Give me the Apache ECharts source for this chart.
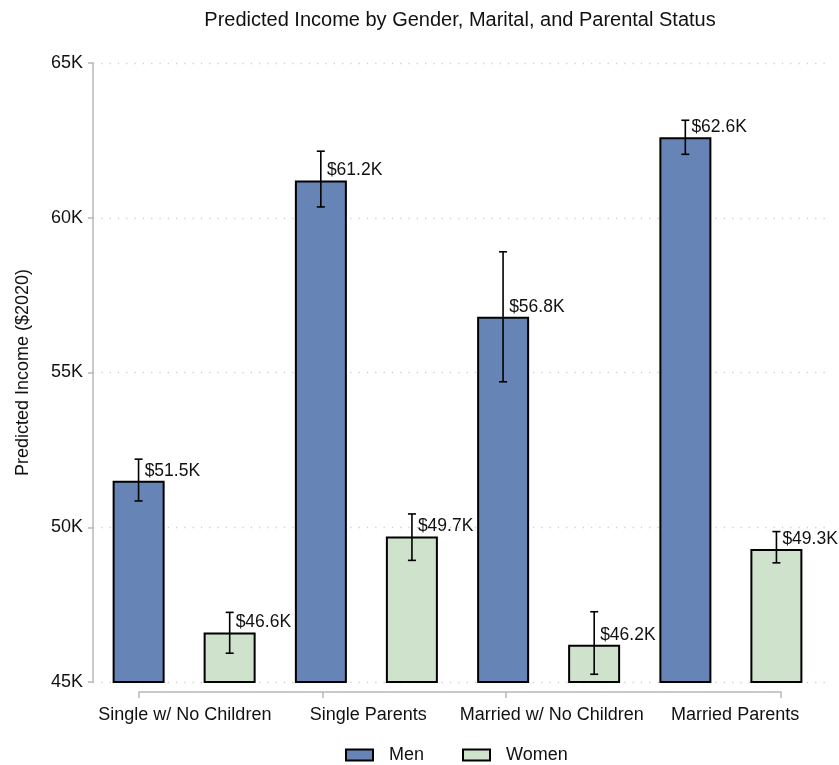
<!DOCTYPE html>
<html>
<head>
<meta charset="utf-8">
<script src="https://cdn.jsdelivr.net/npm/echarts@6/dist/echarts.min.js"></script>
<style>
  html, body { margin: 0; padding: 0; background: #fff; }
  #chart { width: 839px; height: 765px; }
</style>
</head>
<body>
<div id="chart"></div>
<script>
// Household groups along the x axis
const categories = ['Single w/ No Children', 'Single Parents', 'Married w/ No Children', 'Married Parents'];

// Predicted income, thousands of 2020 dollars
const menValues   = [51.5, 61.2, 56.8, 62.6];
const womenValues = [46.6, 49.7, 46.2, 49.3];

// Confidence interval bounds (low, high), thousands
const menLow    = [50.85, 60.35, 54.7, 62.05];
const menHigh   = [52.2, 62.15, 58.9, 63.15];
const womenLow  = [45.93, 48.93, 45.25, 48.85];
const womenHigh = [47.25, 50.43, 47.27, 49.86];

// Y axis ticks
const yMin = 45, yMax = 65, yStep = 5;

const FONT = '"Liberation Sans", Arial, sans-serif';
const MEN_COLOR = '#6784b6';
const WOMEN_COLOR = '#cfe2cc';

const chart = echarts.init(document.getElementById('chart'), null, { renderer: 'canvas' });

function errorSeries(name, lows, highs, side) {
  return {
    type: 'custom',
    name: name + ' CI',
    xAxisIndex: 0,
    yAxisIndex: 0,
    z: 5,
    silent: true,
    data: lows.map((lo, i) => [i, lo, highs[i]]),
    renderItem: function (params, api) {
      const band = api.size([1, 0])[0];
      const dx = side * band * 0.25;
      const lo = api.coord([api.value(0), api.value(1)]);
      const hi = api.coord([api.value(0), api.value(2)]);
      const x = lo[0] + dx;
      const cap = 4;
      const style = { stroke: '#000', lineWidth: 1.6 };
      return {
        type: 'group',
        children: [
          { type: 'line', shape: { x1: x, y1: lo[1], x2: x, y2: hi[1] }, style: style },
          { type: 'line', shape: { x1: x - cap, y1: hi[1], x2: x + cap, y2: hi[1] }, style: style },
          { type: 'line', shape: { x1: x - cap, y1: lo[1], x2: x + cap, y2: lo[1] }, style: style }
        ]
      };
    }
  };
}

const valueLabel = {
  show: true,
  position: [32, -10],
  align: 'left',
  verticalAlign: 'middle',
  color: '#111',
  fontFamily: FONT,
  fontSize: 17.5,
  formatter: p => '$' + p.value.toFixed(1) + 'K'
};

const option = {
  backgroundColor: '#fff',
  animation: false,
  title: {
    text: 'Predicted Income by Gender, Marital, and Parental Status',
    left: 455,
    top: 5,
    textAlign: 'center',
    textStyle: { fontFamily: FONT, fontSize: 20, fontWeight: 'normal', color: '#111' }
  },
  legend: {
    left: 340,
    top: 741,
    data: ['Men', 'Women'],
    icon: 'rect',
    itemWidth: 27,
    itemHeight: 11,
    itemGap: 38,
    textStyle: { fontFamily: FONT, fontSize: 18, color: '#111', padding: [0, 0, 0, 11] }
  },
  grid: [
    // bars
    { left: 93, right: 17, top: 63, bottom: 83 },
    // y axis and dotted gridlines
    { left: 93, right: 9, top: 63, bottom: 83 },
    // category bracket below the plot
    { left: 139, right: 58, top: 63, bottom: 73 }
  ],
  xAxis: [
    { type: 'category', gridIndex: 0, data: categories, show: false },
    { type: 'value', gridIndex: 1, show: false, min: 0, max: 1 },
    {
      type: 'value', gridIndex: 2, min: 0.75, max: 4.25,
      splitLine: { show: false },
      axisLine: { show: true, lineStyle: { color: '#b8b8b8', width: 1.5 } },
      axisTick: { show: true, length: 6, customValues: [0.75, 1.75, 2.75, 4.25],
        lineStyle: { color: '#b8b8b8', width: 1.5 } },
      axisLabel: {
        customValues: [1, 2, 3, 4],
        formatter: v => categories[Math.round(v) - 1] || '',
        margin: 14,
        fontFamily: FONT, fontSize: 18, color: '#111'
      }
    }
  ],
  yAxis: [
    { type: 'value', gridIndex: 0, min: yMin, max: yMax, interval: yStep, show: false },
    {
      type: 'value', gridIndex: 1, min: yMin, max: yMax, interval: yStep,
      name: 'Predicted Income ($2020)',
      nameLocation: 'middle',
      nameGap: 61,
      nameTextStyle: { fontFamily: FONT, fontSize: 18, color: '#111' },
      axisLine: { show: true, lineStyle: { color: '#b8b8b8', width: 1.5 } },
      axisTick: { show: true, length: 5, lineStyle: { color: '#b8b8b8', width: 1.5 } },
      axisLabel: {
        margin: 10, fontFamily: FONT, fontSize: 18, color: '#111',
        formatter: v => v + 'K'
      },
      splitLine: { show: true, lineStyle: { color: '#cfcfcf', width: 1.3, type: [1.3, 7] } }
    },
    { type: 'value', gridIndex: 2, show: false }
  ],
  series: [
    {
      name: 'Men', type: 'bar', xAxisIndex: 0, yAxisIndex: 0,
      data: menValues, barWidth: 52, barGap: '75%',
      itemStyle: { color: MEN_COLOR, borderColor: '#000', borderWidth: 2 },
      label: valueLabel
    },
    {
      name: 'Women', type: 'bar', xAxisIndex: 0, yAxisIndex: 0,
      data: womenValues, barWidth: 52, barGap: '75%',
      itemStyle: { color: WOMEN_COLOR, borderColor: '#000', borderWidth: 2 },
      label: valueLabel
    },
    errorSeries('Men', menLow, menHigh, -1),
    errorSeries('Women', womenLow, womenHigh, 1)
  ]
};

chart.setOption(option);
</script>
</body>
</html>
